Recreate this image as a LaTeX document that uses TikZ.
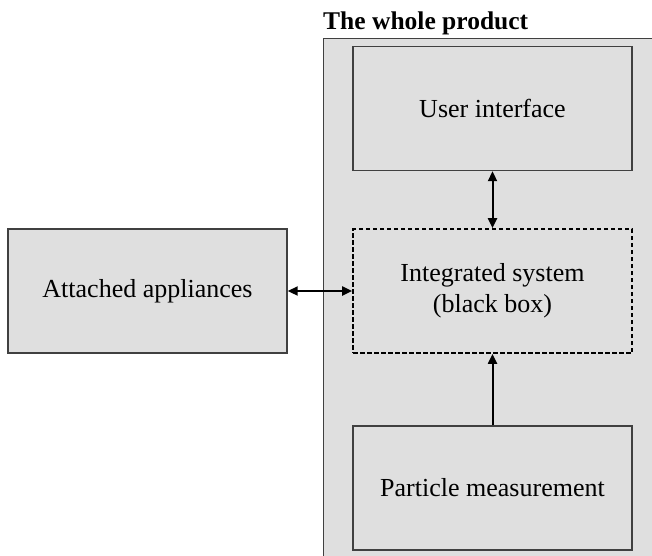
\documentclass[tikz,border=0pt]{standalone}
\usepackage{fontspec}
\setmainfont{Liberation Serif}
\usetikzlibrary{arrows.meta}
\definecolor{boxfill}{HTML}{DFDFDF}
\definecolor{boxline}{HTML}{404040}
\begin{document}
\begin{tikzpicture}[x=1pt,y=-1pt,
  blk/.style={draw=boxline,line width=1.4pt,fill=boxfill,minimum width=279pt,minimum height=124pt,inner sep=0pt,align=center,font=\fontsize{26}{31}\selectfont},
  conn/.style={line width=2pt,>={Triangle[length=10pt,width=9pt]}}]
\useasboundingbox (0,0) rectangle (652,555);
\clip (0,0) rectangle (652,555);
\draw[draw=boxline,line width=1.4pt,fill=boxfill] (323.5,38.5) rectangle (670,575);
\node[anchor=base west,inner sep=0pt,font=\fontsize{25.5}{30}\selectfont\bfseries] (title) at (323,29) {The whole product};
\node[blk] (ui) at (492.5,108.5) {User interface};
\node[blk,draw=black,dash pattern=on 4.5pt off 2.5pt,line width=1.7pt] (core) at (492.5,291) {Integrated system\\(black box)};
\node[blk] (pm) at (492.5,488) {Particle measurement};
\node[blk] (app) at (147.5,291) {Attached appliances};
\draw[conn,<->] (app.east) -- (core.west);
\draw[conn,<->] (ui.south) -- (core.north);
\draw[conn,->] (pm.north) -- (core.south);
\end{tikzpicture}
\end{document}
